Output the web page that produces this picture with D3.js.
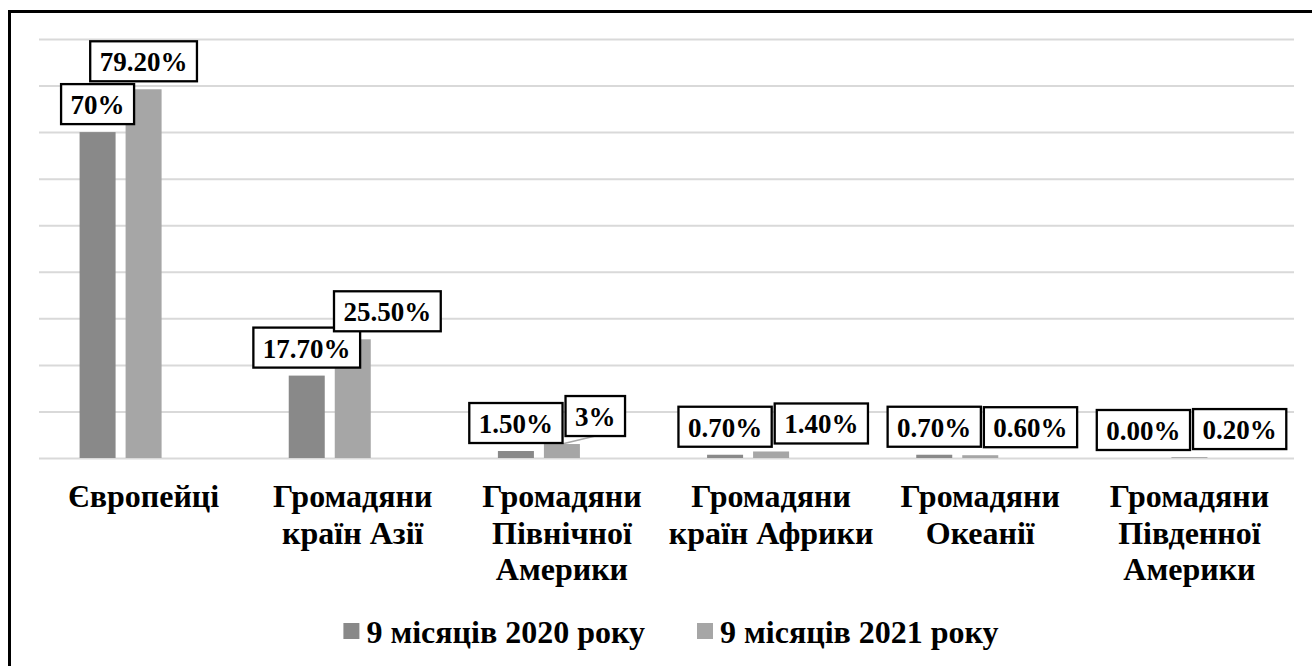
<!DOCTYPE html>
<html>
<head>
<meta charset="utf-8">
<script src="https://cdn.jsdelivr.net/npm/d3@7"></script>
<style>
	body { margin: 0; background: #fff; }
	svg { display: block; font-family: "Liberation Serif", "Times New Roman", "DejaVu Serif", serif; font-weight: bold; }
</style>
</head>
<body>
<svg id="chart" width="1312" height="666"></svg>
<script>
// categories and the two series (percent of foreign visitors)
const categories = [
	"Європейці",
	"Громадяни країн Азії",
	"Громадяни Північної Америки",
	"Громадяни країн Африки",
	"Громадяни Океанії",
	"Громадяни Південної Америки"
];
const seriesNames = ["9 місяців 2020 року", "9 місяців 2021 року"];
const values2020 = [70, 17.7, 1.5, 0.7, 0.7, 0.0];
const values2021 = [79.2, 25.5, 3, 1.4, 0.6, 0.2];
// data labels as they are written on the chart
const labels2020 = ["70%", "17.70%", "1.50%", "0.70%", "0.70%", "0.00%"];
const labels2021 = ["79.20%", "25.50%", "3%", "1.40%", "0.60%", "0.20%"];
const yTicks = [0, 10, 20, 30, 40, 50, 60, 70, 80, 90];

const Width = 1312;
const Height = 666;
const colors = ["#898989", "#a6a6a6"];
const svg = d3.select("#chart");

// outer frame (runs off the right and bottom edges like the original picture)
svg.append("rect").attr("x", 9.5).attr("y", 11.5).attr("width", Width + 40).attr("height", Height + 40)
	.attr("fill", "none").attr("stroke", "#000").attr("stroke-width", 3);

const plotLeft = 39, plotRight = 1294, plotTop = 39, plotBottom = 458;
const y = d3.scaleLinear().domain([0, 90]).range([plotBottom, plotTop]);
const x0 = d3.scaleBand().domain(categories).range([plotLeft, plotRight]);
// the original has a third, empty series slot, so pairs sit left of centre
const slots = ["s2020", "s2021", "empty"];
const x1 = d3.scaleBand().domain(slots).range([0, x0.bandwidth()]).paddingInner(10 / 46).paddingOuter(0.882);

// horizontal grid
const grid = svg.append("g").attr("transform", `translate(${plotLeft},0)`)
	.call(d3.axisLeft(y).tickValues(yTicks).tickSize(plotLeft - plotRight).tickFormat(""));
grid.select(".domain").remove();
grid.selectAll("line").attr("stroke", "#d9d9d9").attr("stroke-width", 2);

// bars
const rows = categories.map((c, i) => ({
	cat: c,
	vals: [
		{ slot: "s2020", v: values2020[i], label: labels2020[i], color: colors[0] },
		{ slot: "s2021", v: values2021[i], label: labels2021[i], color: colors[1] }
	]
}));
const groups = svg.append("g").selectAll("g").data(rows).enter()
	.append("g").attr("transform", d => `translate(${x0(d.cat)},0)`);
groups.selectAll("rect").data(d => d.vals).enter().append("rect")
	.attr("x", d => x1(d.slot)).attr("width", x1.bandwidth())
	.attr("y", d => y(d.v)).attr("height", d => y(0) - y(d.v))
	.attr("fill", d => d.color);

// data labels in boxed callouts
const boxH = 40, padX = 9.5, gap = 8;
const labelLayer = svg.append("g");
rows.forEach(row => {
	const gx = x0(row.cat);
	let prev = null;
	row.vals.forEach(d => {
		const cx = gx + x1(d.slot) + x1.bandwidth() / 2;
		const barTop = y(d.v);
		const g = labelLayer.append("g");
		const rect = g.append("rect").attr("fill", "#fff").attr("stroke", "#000").attr("stroke-width", 2.3);
		const t = g.append("text").attr("font-size", 27).attr("text-anchor", "middle").text(d.label);
		const w = t.node().getComputedTextLength() + 2 * padX;
		let bx = cx - w / 2;
		const by = barTop - gap - boxH;
		let shifted = false;
		if(prev) {
			// push the second label right when it would sit on top of the first one
			const hOver = prev.x + prev.w - bx;
			const vOver = Math.min(prev.y + boxH, by + boxH) - Math.max(prev.y, by);
			if(hOver > 0 && vOver > 0) {
				bx = vOver > 6 ? prev.x + prev.w + 3 : bx + hOver * 0.57;
				shifted = true;
			}
		}
		rect.attr("x", bx).attr("y", by).attr("width", w).attr("height", boxH);
		t.attr("x", bx + w / 2).attr("y", by + boxH - 10);
		if(shifted && y(0) - barTop >= 10 && y(0) - barTop < 40)
			labelLayer.insert("line", ":first-child").attr("x1", cx).attr("y1", barTop)
				.attr("x2", bx + w / 2).attr("y2", by + boxH).attr("stroke", "#a6a6a6").attr("stroke-width", 1.5);
		prev = { x: bx, y: by, w: w };
	});
});

// category labels, wrapped to the group width
const catLayer = svg.append("g").attr("font-size", 32).attr("text-anchor", "middle");
categories.forEach(c => {
	const cx = x0(c) + x0.bandwidth() / 2;
	const text = catLayer.append("text").attr("x", cx).attr("y", 507);
	const words = c.split(" ");
	let line = [];
	let tspan = text.append("tspan").attr("x", cx).attr("dy", 0);
	words.forEach(wd => {
		line.push(wd);
		tspan.text(line.join(" "));
		if(tspan.node().getComputedTextLength() > 215 && line.length > 1) {
			line.pop();
			tspan.text(line.join(" "));
			line = [wd];
			tspan = text.append("tspan").attr("x", cx).attr("dy", 36.5).text(wd);
		}
	});
});

// legend
const legend = svg.append("g").attr("font-size", 32);
const items = legend.selectAll("g").data(seriesNames).enter().append("g");
items.append("rect").attr("width", 16).attr("height", 16).attr("y", -20).attr("fill", (d, i) => colors[i]);
items.append("text").attr("x", 23).text(d => d);
let lx = 0;
items.each(function() {
	d3.select(this).attr("transform", `translate(${lx},0)`);
	lx += this.getBBox().width + 52;
});
const legW = lx - 52;
legend.attr("transform", `translate(${671 - legW / 2},643)`);
</script>
</body>
</html>
